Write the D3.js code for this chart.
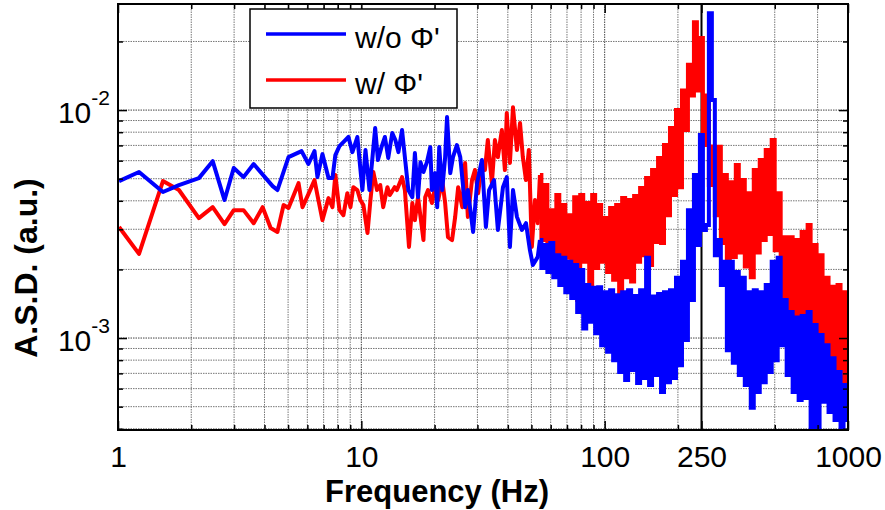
<!DOCTYPE html>
<html lang="en">
<head>
<meta charset="utf-8">
<title>ASD spectrum</title>
<script src="https://cdn.jsdelivr.net/npm/d3@7/dist/d3.min.js"></script>
<style>
    body { margin: 0; background: #fff; }
    text { font-family: "Liberation Sans", Arial, sans-serif; }
</style>
</head>
<body>
<svg id="chart" width="885" height="510"></svg>
<script>
// values are A.S.D. in units of 1e-3 (a.u.)
var blueFreqLow = [1.01, 1.22, 1.53, 1.78, 2.15, 2.45, 2.74, 2.99, 3.28, 3.61, 4.32, 4.52, 5.02, 5.68, 6.06, 6.42, 6.60, 6.92, 7.33, 7.61,
    7.82, 8.13, 8.44, 8.85, 9.19, 9.63, 10.1, 10.4, 10.8, 11.4, 11.7, 12.1, 12.5, 12.9, 13.4, 13.8, 14.2, 14.7, 15.1, 15.6,
    16.2, 16.6, 17.1, 17.5, 18.0, 18.6, 19.2, 19.5, 20.1, 20.5, 20.9, 21.5, 22.1, 22.5, 23.2, 23.8, 24.7, 25.5, 26.7, 27.4,
    28.8, 29.9, 31.3, 32.5, 33.5, 35.1, 36.4, 38.2, 39.6, 40.8, 42.0, 43.6, 45.7, 47.5, 49.3, 50.7, 53.1];
var blueAsdLow = [4.88, 5.35, 4.37, 4.69, 5.03, 5.97, 4.03, 5.57, 5.08, 5.80, 4.64, 4.46, 6.22, 6.61, 5.80, 6.61, 5.08, 6.41, 5.03, 5.03,
    6.35, 6.95, 7.24, 7.62, 6.54, 7.62, 4.46, 6.68, 4.46, 8.34, 6.04, 6.88, 7.62, 6.16, 7.93, 7.39, 6.54, 8.17, 6.22, 4.46,
    4.15, 6.48, 4.15, 5.91, 5.35, 5.91, 6.88, 4.46, 5.29, 3.75, 6.88, 4.46, 6.22, 9.32, 5.29, 6.22, 7.02, 6.22, 3.75, 4.46,
    2.92, 4.78, 6.04, 3.07, 4.46, 4.93, 2.98, 4.59, 5.08, 2.51, 4.46, 3.40, 2.98, 3.19, 2.43, 2.09, 2.27];

var redFreqLow = [1.01, 1.22, 1.53, 1.78, 2.15, 2.45, 2.74, 2.99, 3.28, 3.61, 3.93, 4.24, 4.52, 4.79, 5.02, 5.52, 5.73, 6.06, 6.42, 6.60,
    6.92, 7.33, 7.61, 7.82, 8.13, 8.44,
    8.76, 9.02, 9.27, 9.63, 9.91, 10.2, 10.6, 10.9, 11.2, 11.6, 11.96, 12.3, 12.8, 13.1, 13.7, 14.0, 14.7, 15.1, 15.7, 16.2,
    16.6, 17.1, 18.0, 18.3, 18.8, 19.5, 20.1, 20.7, 21.5, 22.1, 22.7, 23.6, 24.3, 25.0, 26.0, 26.7, 27.4, 28.5, 29.3, 30.2,
    31.3, 32.2, 33.1, 34.4, 35.4, 36.4, 37.8, 38.9, 39.6, 40.8, 42.0, 43.6, 44.9, 46.1, 47.5, 48.8, 50.2, 51.7, 53.1];
var redAsdLow = [3.07, 2.34, 4.88, 4.46, 3.36, 3.75, 3.16, 3.64, 3.64, 3.19, 3.75, 3.04, 2.92, 3.83, 3.72, 4.78, 3.75, 4.28, 4.93, 4.24,
    3.29, 4.11, 3.75, 5.19, 3.64, 3.46,
    4.32, 3.75, 4.59, 4.46, 4.03, 3.83, 2.89, 4.03, 5.35, 4.46, 4.69, 3.75, 4.59, 4.24, 4.59, 4.46, 5.08, 4.46, 2.51, 3.91,
    3.29, 4.15, 2.69, 4.15, 4.46, 3.91, 4.59, 4.03, 4.93, 3.91, 2.77, 2.69, 3.40, 4.59, 3.75, 5.86, 3.40, 4.93, 5.46, 4.32,
    5.86, 5.46, 7.39, 4.78, 7.39, 6.22, 8.17, 5.46, 9.70, 5.86, 10.3, 6.68, 8.77, 6.22, 4.93, 6.68, 2.51, 4.03, 3.19];

// dense part of the spectrum, shared frequency bins
var freqHigh = [54.2, 55.7, 57.3, 59.0, 60.6, 62.4, 64.2, 66.0, 67.9, 69.9, 71.9, 73.9, 76.0, 78.2, 80.5, 82.8, 85.2, 87.6, 90.1, 92.7,
    95.4, 98.1, 100.9, 103.8, 106.8, 109.9, 113.1, 116.3, 119.7, 123.1, 126.6, 130.3, 134.0, 137.9, 141.8, 145.9, 150.1, 154.4, 158.8, 163.4,
    168.1, 172.9, 177.8, 182.9, 188.2, 193.6, 199.2, 204.9, 210.8, 216.8, 223.0, 229.5, 236.0, 242.8, 249.8, 257.0, 264.3, 271.9, 279.7, 287.7,
    296.0, 304.5, 313.3, 322.3, 331.5, 341.0, 350.8, 360.9, 371.3, 381.9, 392.9, 404.2, 415.8, 427.7, 440.0, 452.6, 465.6, 479.0, 492.7, 506.9,
    521.5, 536.4, 551.8, 567.7, 584.0, 600.8, 618.0, 635.8, 654.1, 672.9, 692.2, 712.1, 732.6, 753.4, 775.0, 797.3, 820.2, 843.8, 868.1, 893.0,
    918.7, 945.1, 972.2, 1000];
var blueAsdHigh = [2.69, 2.03, 2.56, 1.95, 2.61, 1.85, 2.31, 1.71, 2.25, 1.59, 2.16, 1.50, 2.09, 1.30, 1.99, 1.10, 1.71, 1.18, 1.66, 1.05,
    1.67, 0.93, 1.59, 0.87, 1.62, 0.80, 1.54, 0.71, 1.59, 0.655, 1.62, 0.724, 1.53, 0.635, 1.62, 0.668, 2.25, 0.622, 1.52, 0.688,
    1.56, 0.58, 1.59, 0.64, 1.62, 0.668, 1.84, 0.76, 2.16, 0.98, 3.64, 1.47, 5.19, 2.56, 7.77, 2.98, 3.13, 26.6, 11.06, 2.31,
    2.69, 1.71, 2.16, 0.885, 2.16, 0.78, 1.95, 0.688, 1.84, 0.622, 1.59, 0.494, 1.62, 0.58, 1.59, 0.64, 1.71, 0.71, 2.16, 0.80,
    2.25, 0.93, 1.47, 0.688, 1.30, 0.58, 1.23, 0.535, 1.25, 0.546, 1.30, 0.38, 1.14, 0.40, 1.03, 0.525, 0.93, 0.474, 0.815, 0.437,
    0.71, 0.387, 0.622, 0.437];
var redAsdHigh = [5.19, 2.69, 4.69, 2.43, 3.64, 1.99, 4.24, 2.16, 3.83, 2.25, 3.46, 2.09, 4.15, 1.47, 4.24, 2.16, 3.91, 1.71, 4.24, 2.03,
    3.83, 2.16, 3.36, 1.95, 3.72, 1.80, 3.83, 1.57, 4.11, 1.85, 4.03, 1.77, 4.20, 2.16, 4.55, 2.31, 5.03, 2.09, 5.46, 2.64,
    6.16, 2.61, 7.02, 3.46, 8.34, 4.24, 10.0, 4.59, 12.2, 8.17, 15.8, 11.6, 24.3, 12.2, 20.7, 7.02, 11.6, 4.69, 6.93, 3.46,
    6.90, 2.61, 5.19, 2.09, 4.83, 2.27, 5.74, 2.37, 4.93, 2.06, 4.32, 1.85, 5.46, 2.37, 6.04, 2.69, 6.68, 2.86, 7.39, 2.43,
    4.32, 1.47, 2.77, 1.22, 2.77, 1.12, 2.69, 0.93, 2.92, 1.08, 3.13, 0.98, 2.56, 0.95, 2.31, 0.745, 1.84, 0.622, 1.68, 0.655,
    1.71, 0.592, 1.59, 0.592];

var xTickValues = [1, 10, 100, 250, 1000];
var xMinorValues = [2, 3, 4, 5, 6, 7, 8, 9, 20, 30, 40, 50, 60, 70, 80, 90, 200, 500, 750];
var yTickValues = [1e-3, 1e-2];
var yTickExponents = ["-3", "-2"];
var yMinorValues = [4e-4, 5e-4, 6e-4, 7e-4, 8e-4, 9e-4, 2e-3, 3e-3, 4e-3, 5e-3, 6e-3, 7e-3, 8e-3, 9e-3, 2e-2];
var markerFreq = 250;
var seriesNames = ["w/o \u03A6'", "w/ \u03A6'"];
var seriesColors = ["#0000ff", "#ff0000"];

var width = 885, height = 510;
var margin = { top: 4, right: 37, bottom: 80, left: 118 };
var plotW = width - margin.left - margin.right;
var plotH = height - margin.top - margin.bottom;

var svg = d3.select('#chart');

var x = d3.scaleLog().domain([1, 1000]).range([margin.left, margin.left + plotW]);
var y = d3.scaleLog().domain([3.95e-4, 2.92e-2]).range([margin.top + plotH, margin.top]);

function toPoints(freqs, asd) {
    var n = Math.min(freqs.length, asd.length);
    var pts = [];
    for (var i = 0; i < n; i++) pts.push({ f: freqs[i], v: asd[i] * 1e-3 });
    return pts;
}

var blueLow = toPoints(blueFreqLow, blueAsdLow), blueHigh = toPoints(freqHigh, blueAsdHigh);
var redLow = toPoints(redFreqLow, redAsdLow), redHigh = toPoints(freqHigh, redAsdHigh);

svg.append('defs').append('clipPath').attr('id', 'plotClip')
    .append('rect')
    .attr('x', margin.left).attr('y', margin.top)
    .attr('width', plotW).attr('height', plotH);

// grid
var grid = svg.append('g');
grid.selectAll('.gx').data(xMinorValues.concat([10, 100])).enter().append('line')
    .attr('x1', d => x(d)).attr('x2', d => x(d))
    .attr('y1', margin.top).attr('y2', margin.top + plotH)
    .attr('stroke', d => (d === 10 || d === 100) ? '#444' : '#777')
    .attr('stroke-width', 1)
    .attr('stroke-dasharray', '1.5,1');
grid.selectAll('.gy').data(yMinorValues.concat(yTickValues)).enter().append('line')
    .attr('x1', margin.left).attr('x2', margin.left + plotW)
    .attr('y1', d => y(d)).attr('y2', d => y(d))
    .attr('stroke', d => yTickValues.indexOf(d) >= 0 ? '#444' : '#777')
    .attr('stroke-width', 1)
    .attr('stroke-dasharray', '1.5,1');

// 250 Hz marker
svg.append('line')
    .attr('x1', x(markerFreq)).attr('x2', x(markerFreq))
    .attr('y1', margin.top).attr('y2', margin.top + plotH)
    .attr('stroke', '#000').attr('stroke-width', 2);

var line = d3.line().x(d => x(d.f)).y(d => y(d.v));
var stepLine = d3.line().x(d => x(d.f)).y(d => y(d.v)).curve(d3.curveStep);

var plot = svg.append('g').attr('clip-path', 'url(#plotClip)');
function drawSeries(low, high, color) {
    plot.append('path').datum(low.concat([high[0]]))
        .attr('d', line)
        .attr('fill', 'none').attr('stroke', color)
        .attr('stroke-width', 4).attr('stroke-linejoin', 'round');
    plot.append('path').datum(high)
        .attr('d', stepLine)
        .attr('fill', 'none').attr('stroke', color)
        .attr('stroke-width', 4).attr('stroke-linejoin', 'miter');
}
drawSeries(redLow, redHigh, seriesColors[1]);
drawSeries(blueLow, blueHigh, seriesColors[0]);

// ticks (inside, all four sides)
function tickAxis(axis, tr, vals, size) {
    var g = svg.append('g').attr('transform', tr)
        .call(axis.tickValues(vals).tickSize(-size).tickFormat(''));
    g.select('.domain').remove();
    g.selectAll('line').attr('stroke', '#000').attr('stroke-width', 1.5);
    return g;
}
tickAxis(d3.axisBottom(x), 'translate(0,' + (margin.top + plotH) + ')', xMinorValues, 5);
tickAxis(d3.axisTop(x), 'translate(0,' + margin.top + ')', xMinorValues, 5);
tickAxis(d3.axisBottom(x), 'translate(0,' + (margin.top + plotH) + ')', xTickValues, 9);
tickAxis(d3.axisTop(x), 'translate(0,' + margin.top + ')', xTickValues, 9);
tickAxis(d3.axisLeft(y), 'translate(' + margin.left + ',0)', yMinorValues, 5);
tickAxis(d3.axisRight(y), 'translate(' + (margin.left + plotW) + ',0)', yMinorValues, 5);
tickAxis(d3.axisLeft(y), 'translate(' + margin.left + ',0)', yTickValues, 9);
tickAxis(d3.axisRight(y), 'translate(' + (margin.left + plotW) + ',0)', yTickValues, 9);

// x tick labels
var xLab = svg.append('g')
    .attr('transform', 'translate(0,' + (margin.top + plotH) + ')')
    .call(d3.axisBottom(x).tickValues(xTickValues).tickSize(0).tickPadding(16).tickFormat(d3.format('d')));
xLab.select('.domain').remove();
xLab.selectAll('text').attr('font-size', 30).attr('font-family', '"Liberation Sans", Arial, sans-serif').attr('fill', '#000');

// y tick labels 10^n
var yLab = svg.append('g');
yTickValues.forEach(function (v, i) {
    var t = yLab.append('text')
        .attr('x', margin.left - 8)
        .attr('y', y(v) + 12.5)
        .attr('text-anchor', 'end')
        .attr('font-size', 30);
    t.append('tspan').text('10');
    t.append('tspan').attr('font-size', 21).attr('dy', -18).text(yTickExponents[i]);
});

// axes box
svg.append('rect')
    .attr('x', margin.left).attr('y', margin.top)
    .attr('width', plotW).attr('height', plotH)
    .attr('fill', 'none').attr('stroke', '#000').attr('stroke-width', 2);

// axis titles
svg.append('text')
    .attr('x', 437).attr('y', 502)
    .attr('text-anchor', 'middle')
    .attr('font-size', 31).attr('font-weight', 'bold')
    .text('Frequency (Hz)');
svg.append('text')
    .attr('transform', 'translate(37,268) rotate(-90)')
    .attr('text-anchor', 'middle')
    .attr('font-size', 32).attr('font-weight', 'bold')
    .text('A.S.D. (a.u.)');

// legend
var legend = svg.append('g');
legend.append('rect')
    .attr('x', 250).attr('y', 9).attr('width', 207).attr('height', 99)
    .attr('fill', '#fff').attr('stroke', '#000').attr('stroke-width', 1.5);
var legendY = [34, 80];
seriesNames.forEach(function (name, i) {
    legend.append('line')
        .attr('x1', 266).attr('x2', 346)
        .attr('y1', legendY[i]).attr('y2', legendY[i])
        .attr('stroke', seriesColors[i]).attr('stroke-width', 3.5);
    legend.append('text')
        .attr('x', 355).attr('y', legendY[i] + 14)
        .attr('font-size', 30)
        .text(name);
});
</script>
</body>
</html>
